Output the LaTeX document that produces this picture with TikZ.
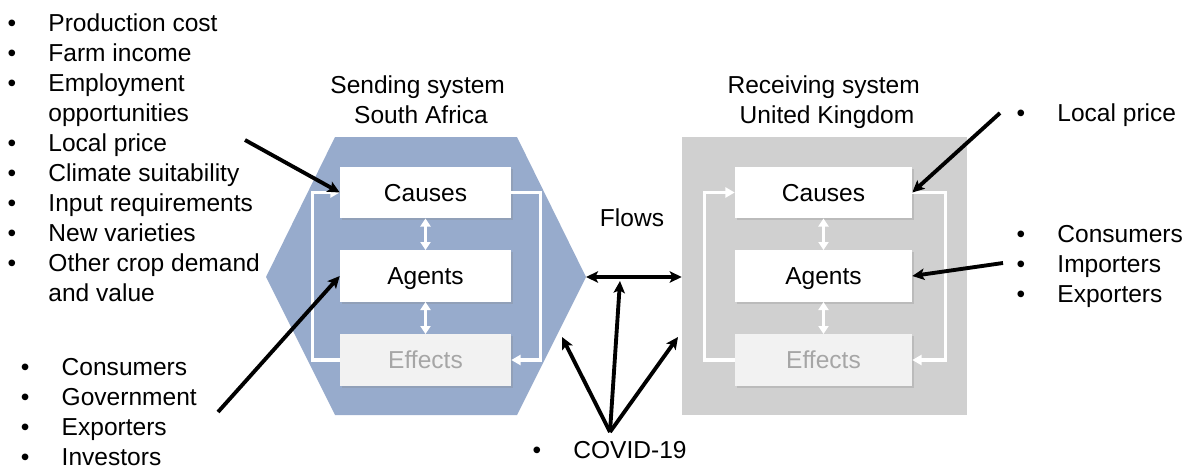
\documentclass[tikz,border=0pt]{standalone}
\usepackage{fontspec}
\setmainfont{Liberation Sans}
\usetikzlibrary{arrows.meta,shadows}
\definecolor{hexblue}{HTML}{97ABCC}
\definecolor{recvgray}{HTML}{D0D0D0}
\definecolor{effectfill}{HTML}{F2F2F2}
\definecolor{effecttext}{HTML}{A6A6A6}
\begin{document}
\begin{tikzpicture}[x=0.75pt,y=-0.75pt,
  every node/.style={font=\fontsize{18.4pt}{22.5pt}\selectfont, inner sep=0pt},
  stagebox/.style={fill=white, minimum height=38.6pt, text height=13.2pt, text depth=0pt,
    drop shadow={shadow xshift=1.5pt,shadow yshift=-1.5pt,opacity=0.25}},
  sendbox/.style={stagebox, minimum width=128.25pt},
  recvbox/.style={stagebox, minimum width=132.75pt},
  effectbox/.style={fill=effectfill, text=effecttext},
  loopline/.style={draw=white, line width=2.4pt, -{Triangle[length=7pt,width=7.5pt]}},
  linkarrow/.style={draw=white, line width=2.4pt,
    {Triangle[length=6pt,width=7.5pt]}-{Triangle[length=6pt,width=7.5pt]}},
  driver/.style={draw=black, line width=2.9pt, -{Stealth[length=9pt,width=8.5pt,inset=2pt]}},
  flowarrow/.style={draw=black, line width=2.9pt,
    {Stealth[length=9pt,width=8.5pt,inset=2pt]}-{Stealth[length=9pt,width=8.5pt,inset=2pt]}},
  bulletlist/.style={anchor=base west, align=left},
  titletext/.style={anchor=base}
]
\useasboundingbox (0,0) rectangle (1186,468);

% sending system: hexagon
\coordinate (hexNW) at (335,137);
\coordinate (hexNE) at (517,137);
\coordinate (hexE)  at (586,277);
\coordinate (hexSE) at (517,415);
\coordinate (hexSW) at (335,415);
\coordinate (hexW)  at (266,277);
\fill[hexblue] (hexNW) -- (hexNE) -- (hexE) -- (hexSE) -- (hexSW) -- (hexW) -- cycle;

% receiving system: grey square
\node[fill=recvgray, minimum width=213.75pt, minimum height=208.5pt] (recv) at (824.5,276) {};

% stage boxes
\node[sendbox] (sC) at (425.5,192.5) {Causes};
\node[sendbox] (sA) at (425.5,276) {Agents};
\node[sendbox,effectbox] (sE) at (425.5,360) {Effects};
\node[recvbox] (rC) at (823.5,192.5) {Causes};
\node[recvbox] (rA) at (823.5,276) {Agents};
\node[recvbox,effectbox] (rE) at (823.5,360) {Effects};

% feedback loops and links
\draw[loopline] (sE.west) -- ++(-27,0) |- (sC.west);
\draw[loopline] (sC.east) -- ++(29,0) |- (sE.east);
\draw[loopline] (rE.west) -- ++(-30,0) |- (rC.west);
\draw[loopline] (rC.east) -- ++(33,0) |- (rE.east);
\draw[linkarrow] (sC.south) -- (sA.north);
\draw[linkarrow] (sA.south) -- (sE.north);
\draw[linkarrow] (rC.south) -- (rA.north);
\draw[linkarrow] (rA.south) -- (rE.north);

% titles
\node[titletext] (sendTitle) at (421,93)
  {\begin{tabular}[t]{@{}c@{}}Sending system\hspace*{5pt}\\South Africa\end{tabular}};
\node[titletext] (recvTitle) at (827,93)
  {\begin{tabular}[t]{@{}c@{}}Receiving system\hspace*{5pt}\\United Kingdom\end{tabular}};
\node[titletext] (flows) at (632,226.7) {Flows};

% factor lists
\node[bulletlist] (causeList) at (7.4,31.7)
  {\begin{tabular}[t]{@{}p{30.6pt}@{}l@{}}
   • & Production cost\\
   • & Farm income\\
   • & Employment\\
     & opportunities\\
   • & Local price\\
   • & Climate suitability\\
   • & Input requirements\\
   • & New varieties\\
   • & Other crop demand\\
     & and value
   \end{tabular}};
\node[bulletlist] (agentList) at (20.7,375.5)
  {\begin{tabular}[t]{@{}p{30.6pt}@{}l@{}}
   • & Consumers\\
   • & Government\\
   • & Exporters\\
   • & Investors
   \end{tabular}};
\node[bulletlist] (priceList) at (1016.4,121.7)
  {\begin{tabular}[t]{@{}p{30.6pt}@{}l@{}}
   • & Local price
   \end{tabular}};
\node[bulletlist] (tradeList) at (1016.4,242)
  {\begin{tabular}[t]{@{}p{30.6pt}@{}l@{}}
   • & Consumers\\
   • & Importers\\
   • & Exporters
   \end{tabular}};
\node[bulletlist] (covidList) at (532.4,458)
  {\begin{tabular}[t]{@{}p{30.6pt}@{}l@{}}
   • & COVID-19
   \end{tabular}};

% drivers
\coordinate (srcCausesL) at (245,140);
\coordinate (srcAgentsL) at (218,412);
\coordinate (srcCausesR) at (1000,113);
\coordinate (srcAgentsR) at (1003,263);
\draw[driver] (srcCausesL) -- (sC.west);
\draw[driver] (srcAgentsL) -- (sA.west);
\draw[driver] (srcCausesR) -- (rC.east);
\draw[driver] (srcAgentsR) -- (rA.east);

% flows between the systems and the COVID-19 shock
\draw[flowarrow] (hexE) -- (recv.west |- hexE);
\coordinate (covid) at (610,432);
\coordinate (flowTap) at (620,281);
\coordinate (hexEdge) at (562,337);
\coordinate (recvEdge) at (678,337);
\draw[driver] (covid) -- (flowTap);
\draw[driver] (covid) -- (hexEdge);
\draw[driver] (covid) -- (recvEdge);
\end{tikzpicture}
\end{document}
